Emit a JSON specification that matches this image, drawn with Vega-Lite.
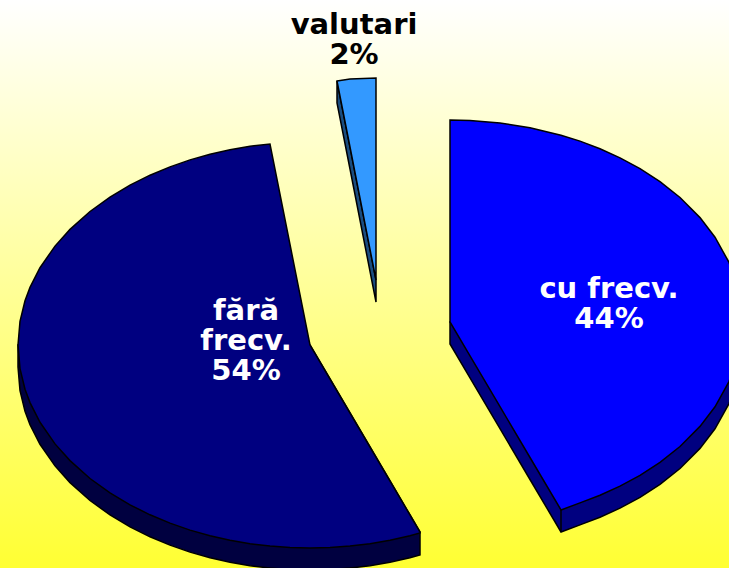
{"$schema":"https://vega.github.io/schema/vega-lite/v6.json","width":729,"height":568,"padding":0,"autosize":{"type":"none"},"background":"white","view":{"stroke":null,"fill":{"gradient":"linear","x1":0,"y1":0,"x2":0,"y2":1,"stops":[{"offset":0,"color":"#FFFFFF"},{"offset":1,"color":"#FFFF33"}]}},"datasets":{"outline":[
{"slice":"cu frecv.","x":450,"y":120,"low":322},{"slice":"cu frecv.","x":470,"y":120.5,"low":355.9},{"slice":"cu frecv.","x":500,"y":123,"low":406.7},{"slice":"cu frecv.","x":530,"y":127.7,"low":457.5},{"slice":"cu frecv.","x":561,"y":135.2,"low":510},{"slice":"cu frecv.","x":580,"y":141.1,"low":502.9},{"slice":"cu frecv.","x":600,"y":148.7,"low":495.3},{"slice":"cu frecv.","x":620,"y":157.8,"low":486.2},{"slice":"cu frecv.","x":640,"y":168.6,"low":475.4},{"slice":"cu frecv.","x":660,"y":181.6,"low":462.4},{"slice":"cu frecv.","x":680,"y":197.5,"low":446.5},{"slice":"cu frecv.","x":700,"y":217.6,"low":426.4},{"slice":"cu frecv.","x":715,"y":237.2,"low":406.8},{"slice":"cu frecv.","x":729,"y":262.4,"low":381.6},{"slice":"cu frecv.","x":738,"y":288.7,"low":355.3},{"slice":"cu frecv.","x":742,"y":322,"low":322},
{"slice":"fără frecv.","x":18,"y":345,"low":345},{"slice":"fără frecv.","x":20,"y":321.4,"low":368.6},{"slice":"fără frecv.","x":25,"y":300.8,"low":389.2},{"slice":"fără frecv.","x":30,"y":287.4,"low":402.6},{"slice":"fără frecv.","x":40,"y":267.7,"low":422.3},{"slice":"fără frecv.","x":55,"y":246.1,"low":443.9},{"slice":"fără frecv.","x":70,"y":229.4,"low":460.6},{"slice":"fără frecv.","x":90,"y":211.5,"low":478.5},{"slice":"fără frecv.","x":110,"y":197.1,"low":492.9},{"slice":"fără frecv.","x":130,"y":185.2,"low":504.8},{"slice":"fără frecv.","x":150,"y":175.2,"low":514.8},{"slice":"fără frecv.","x":170,"y":166.9,"low":523.1},{"slice":"fără frecv.","x":190,"y":159.9,"low":530.1},{"slice":"fără frecv.","x":210,"y":154.3,"low":535.7},{"slice":"fără frecv.","x":230,"y":149.8,"low":540.2},{"slice":"fără frecv.","x":250,"y":146.3,"low":543.7},{"slice":"fără frecv.","x":270,"y":144,"low":546.1},{"slice":"fără frecv.","x":290,"y":244.5,"low":547.5},{"slice":"fără frecv.","x":310,"y":345,"low":548},{"slice":"fără frecv.","x":330,"y":379,"low":547.5},{"slice":"fără frecv.","x":350,"y":413,"low":546.1},{"slice":"fără frecv.","x":370,"y":447,"low":543.7},{"slice":"fără frecv.","x":390,"y":481,"low":540.2},{"slice":"fără frecv.","x":410,"y":515,"low":535.7},{"slice":"fără frecv.","x":420,"y":532,"low":533},
{"slice":"valutari","x":337,"y":81,"low":81},{"slice":"valutari","x":350,"y":79,"low":147},{"slice":"valutari","x":376,"y":78,"low":280}
],"walls":[
{"slice":"cu frecv.","x":450,"y":322,"low":344},{"slice":"cu frecv.","x":470,"y":322,"low":377.9},{"slice":"cu frecv.","x":500,"y":322,"low":428.7},{"slice":"cu frecv.","x":530,"y":322,"low":479.5},{"slice":"cu frecv.","x":561,"y":322,"low":532},{"slice":"cu frecv.","x":580,"y":322,"low":524.9},{"slice":"cu frecv.","x":600,"y":322,"low":517.3},{"slice":"cu frecv.","x":620,"y":322,"low":508.2},{"slice":"cu frecv.","x":640,"y":322,"low":497.4},{"slice":"cu frecv.","x":660,"y":322,"low":484.4},{"slice":"cu frecv.","x":680,"y":322,"low":468.5},{"slice":"cu frecv.","x":700,"y":322,"low":448.4},{"slice":"cu frecv.","x":715,"y":322,"low":428.8},{"slice":"cu frecv.","x":729,"y":322,"low":403.6},{"slice":"cu frecv.","x":738,"y":322,"low":377.3},{"slice":"cu frecv.","x":742,"y":322,"low":344},
{"slice":"fără frecv.","x":18,"y":345,"low":367},{"slice":"fără frecv.","x":20,"y":345,"low":390.6},{"slice":"fără frecv.","x":25,"y":345,"low":411.2},{"slice":"fără frecv.","x":30,"y":345,"low":424.6},{"slice":"fără frecv.","x":40,"y":345,"low":444.3},{"slice":"fără frecv.","x":55,"y":345,"low":465.9},{"slice":"fără frecv.","x":70,"y":345,"low":482.6},{"slice":"fără frecv.","x":90,"y":345,"low":500.5},{"slice":"fără frecv.","x":110,"y":345,"low":514.9},{"slice":"fără frecv.","x":130,"y":345,"low":526.8},{"slice":"fără frecv.","x":150,"y":345,"low":536.8},{"slice":"fără frecv.","x":170,"y":345,"low":545.1},{"slice":"fără frecv.","x":190,"y":345,"low":552.1},{"slice":"fără frecv.","x":210,"y":345,"low":557.7},{"slice":"fără frecv.","x":230,"y":345,"low":562.2},{"slice":"fără frecv.","x":250,"y":345,"low":565.7},{"slice":"fără frecv.","x":270,"y":345,"low":568.1},{"slice":"fără frecv.","x":290,"y":345,"low":569.5},{"slice":"fără frecv.","x":310,"y":345,"low":570},{"slice":"fără frecv.","x":330,"y":379,"low":569.5},{"slice":"fără frecv.","x":350,"y":413,"low":568.1},{"slice":"fără frecv.","x":370,"y":447,"low":565.7},{"slice":"fără frecv.","x":390,"y":481,"low":562.2},{"slice":"fără frecv.","x":410,"y":515,"low":557.7},{"slice":"fără frecv.","x":420,"y":532,"low":555},
{"slice":"valutari","x":337,"y":81,"low":103},{"slice":"valutari","x":350,"y":147,"low":169},{"slice":"valutari","x":376,"y":280,"low":302}
],"edges":[{"x":561,"y":510,"low":532}],"labels":[
{"slice":"valutari","label":"valutari\n2%","x":354,"y":25},{"slice":"cu frecv.","label":"cu frecv.\n44%","x":609,"y":289},{"slice":"fără frecv.","label":"fără\nfrecv.\n54%","x":246,"y":311}
]},
"encoding":{"x":{"field":"x","type":"quantitative","scale":{"domain":[0,729],"nice":false,"zero":false},"axis":null}},
"layer":[
{"data":{"name":"walls"},"mark":{"type":"area","orient":"vertical","stroke":"black","strokeWidth":1.5,"clip":true},"encoding":{"y":{"field":"y","type":"quantitative","scale":{"domain":[0,568],"reverse":true,"nice":false,"zero":false},"axis":null,"stack":null},"y2":{"field":"low"},"color":{"field":"slice","type":"nominal","legend":null,"scale":{"domain":["cu frecv.","fără frecv.","valutari"],"range":["#000080","#000040","#1A4D80"]}}}},
{"data":{"name":"outline"},"mark":{"type":"area","orient":"vertical","stroke":"black","strokeWidth":1.5,"clip":true},"encoding":{"y":{"field":"y","type":"quantitative","axis":null,"stack":null},"y2":{"field":"low"},"fill":{"field":"slice","type":"nominal","legend":null,"scale":{"domain":["cu frecv.","fără frecv.","valutari"],"range":["#0000FF","#000080","#3399FF"]}}}},
{"data":{"name":"edges"},"mark":{"type":"rule","stroke":"black","strokeWidth":1.5},"encoding":{"y":{"field":"y","type":"quantitative","axis":null},"y2":{"field":"low"}}},
{"data":{"name":"labels"},"mark":{"type":"text","font":"DejaVu Sans","fontWeight":"bold","fontSize":29,"lineBreak":"\n","lineHeight":30,"align":"center","baseline":"middle"},"encoding":{"y":{"field":"y","type":"quantitative","axis":null},"text":{"field":"label"},"color":{"field":"slice","type":"nominal","legend":null,"scale":{"domain":["cu frecv.","fără frecv.","valutari"],"range":["#FFFFFF","#FFFFFF","#000000"]}}}}
],
"resolve":{"scale":{"color":"independent","fill":"independent"}}}
